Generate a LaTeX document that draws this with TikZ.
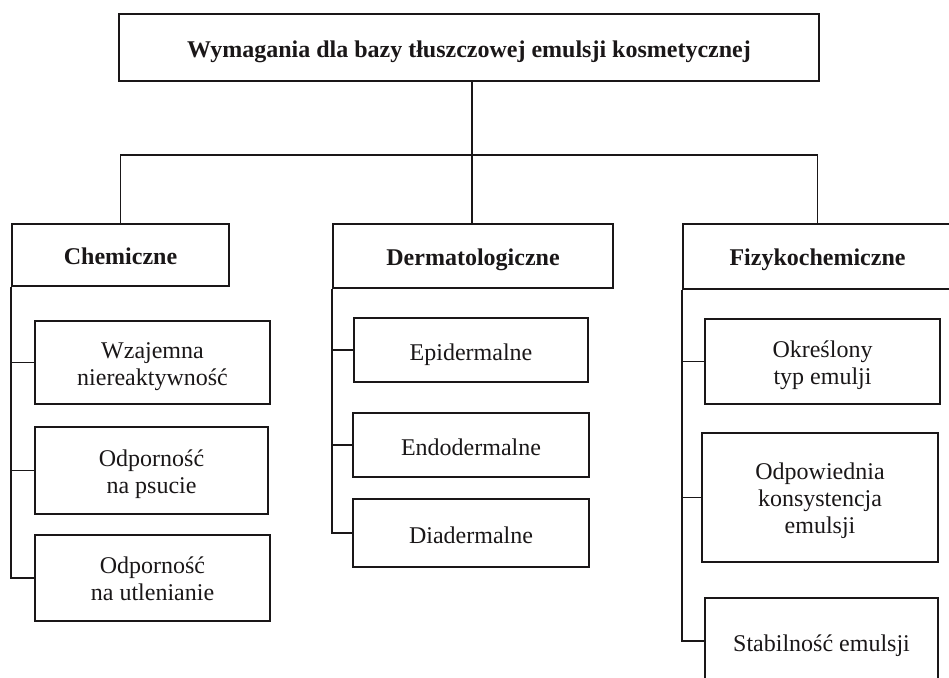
\documentclass[tikz,border=0pt]{standalone}
\usepackage{fontspec}
\setmainfont{Liberation Serif}
\definecolor{ink}{HTML}{1A1718}
\newcommand\topst{\rule{0pt}{25pt}}
\newcommand\botst{\rule[-7pt]{0pt}{7pt}}
\tikzset{
  box/.style={draw=ink, line width=2pt, rectangle, inner sep=0pt, align=center, text=ink,
    font=\fontsize{24}{27}\selectfont},
  onebox/.style={box, text height=20pt, text depth=0pt},
  headbox/.style={box, font=\fontsize{24}{27}\selectfont\bfseries, text height=18pt, text depth=0pt},
  conn/.style={draw=ink, line width=1.1pt}
}
\begin{document}
\begin{tikzpicture}[x=1pt,y=-1pt]
\useasboundingbox (0,0) rectangle (949,677);
\clip (0,0) rectangle (949,677);
\fill[white] (0,0) rectangle (949,677);

\node[headbox, text height=21pt, minimum width=700pt, minimum height=67pt] (title) at (469,47.5)
  {Wymagania dla bazy tłuszczowej emulsji kosmetycznej};

\node[headbox, minimum width=217pt, minimum height=62pt] (chem) at (120.5,255) {Chemiczne};
\node[headbox, minimum width=280pt, minimum height=64pt] (derm) at (473,256) {Dermatologiczne};
\node[headbox, minimum width=269pt, minimum height=65pt] (fiz) at (817.5,256.5) {Fizykochemiczne};

\node[box, minimum width=235pt, minimum height=83pt] (w) at (152.5,362.5) {\topst Wzajemna\\niereaktywność\botst};
\node[box, minimum width=233pt, minimum height=87pt] (p) at (151.5,470.5) {\topst Odporność\\na psucie\botst};
\node[box, minimum width=235pt, minimum height=86pt] (u) at (152.5,578) {\topst Odporność\\na utlenianie\botst};

\node[onebox, minimum width=234pt, minimum height=64pt] (epi) at (471,350) {Epidermalne};
\node[onebox, minimum width=236pt, minimum height=64pt] (endo) at (471,445) {Endodermalne};
\node[onebox, minimum width=236pt, minimum height=68pt] (dia) at (471,533) {Diadermalne};

\node[box, minimum width=235pt, minimum height=85pt] (okr) at (822.5,361.5) {\topst Określony\\typ emulji\botst};
\node[box, minimum width=236pt, minimum height=129pt] (odp) at (820,497.5) {\topst Odpowiednia\\konsystencja\\emulsji\botst};
\node[onebox, minimum width=233pt, minimum height=86pt] (stab) at (821.5,641) {Stabilność emulsji};

\coordinate (bar) at (472,155);
\draw[conn] (title.south -| bar) -- (derm.north -| bar);
\draw[conn] (chem.north) |- (bar) -| (fiz.north);

\draw[conn] (chem.south west) |- (w.west);
\draw[conn] (chem.south west) |- (p.west);
\draw[conn] (chem.south west) |- (u.west);

\draw[conn] (derm.south west) |- (epi.west);
\draw[conn] (derm.south west) |- (endo.west);
\draw[conn] (derm.south west) |- (dia.west);

\draw[conn] (fiz.south west) |- (okr.west);
\draw[conn] (fiz.south west) |- (odp.west);
\draw[conn] (fiz.south west) |- (stab.west);
\end{tikzpicture}
\end{document}
